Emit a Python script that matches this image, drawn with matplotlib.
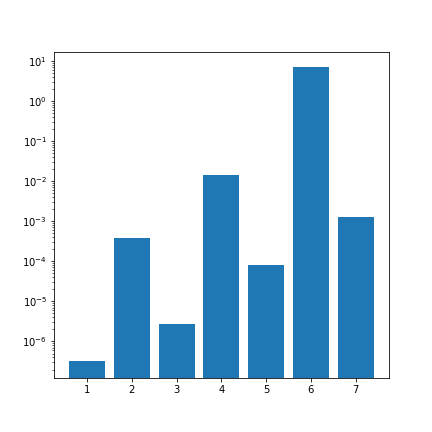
import numpy as np
import matplotlib
matplotlib.use("Agg")
import matplotlib.pyplot as plt

# bar positions and heights
labels = [1, 2, 3, 4, 5, 6, 7]
values = [3.3e-7, 3.9e-4, 2.8e-6, 1.45e-2, 8.3e-5, 6.9, 1.3e-3]

fig, ax = plt.subplots(figsize=(6, 6), dpi=72)
fig.subplots_adjust(left=0.125, right=0.9, top=0.88, bottom=0.125)
ax.bar(labels, values)
ax.set_yscale("log")
ax.set_ylim(10**-6.91, 10**1.22)
ax.set_xticks(labels)

fig.savefig("out.png", dpi=72)
